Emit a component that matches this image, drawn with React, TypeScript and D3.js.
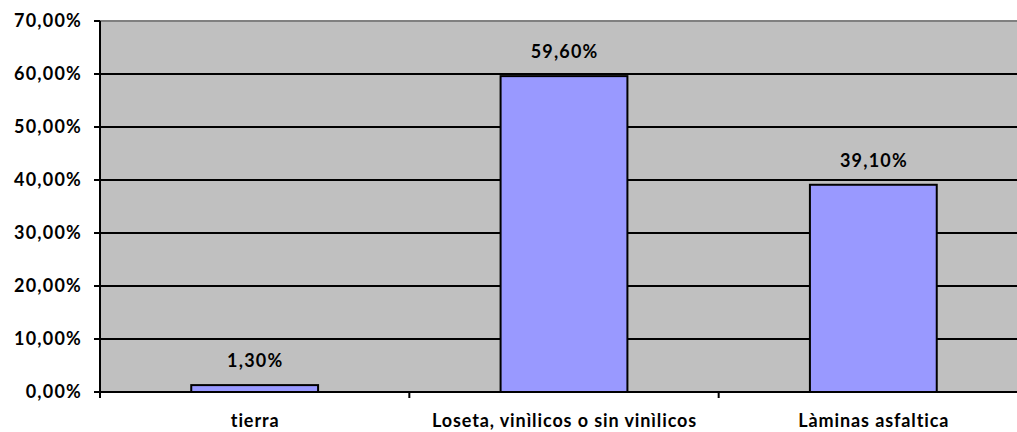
import React from "react";
import * as d3 from "d3";

const categories = ["tierra", "Loseta, vinìlicos o sin vinìlicos", "Làminas asfaltica"];
const values = [1.3, 59.6, 39.1];
const yTicks = [0, 10, 20, 30, 40, 50, 60, 70];

const W = 1017;
const H = 432;
const plot = { left: 100, right: 1028, top: 21, bottom: 392 };
const FONT = "Lato, 'Open Sans', sans-serif";
const FS = 18;

const fmt = (v: number) => v.toFixed(2).replace(".", ",") + "%";

export default function App() {
  const y = d3.scaleLinear().domain([0, 70]).range([plot.bottom, plot.top]);
  const xCat = d3.scaleBand<string>().domain(categories).range([plot.left, plot.right]).padding(0);
  const xBar = d3
    .scaleBand<string>()
    .domain(categories)
    .range([plot.left, plot.right])
    .paddingInner(0.59)
    .paddingOuter(0.295);

  const boundaries = [...categories.map((c) => xCat(c)!), plot.right];

  return (
    <div style={{ position: "fixed", left: 0, top: 0, width: W, height: H, background: "#fff" }}>
      <svg width={W} height={H} style={{ display: "block" }}>
        {/* plot background */}
        <rect
          x={plot.left}
          y={plot.top}
          width={plot.right - plot.left}
          height={plot.bottom - plot.top}
          fill="#C0C0C0"
        />
        <line x1={plot.left} x2={plot.right} y1={plot.top} y2={plot.top} stroke="#808080" strokeWidth={2} />

        {/* horizontal gridlines */}
        {yTicks.filter((t) => t > 0 && t < 70).map((t) => (
          <line key={t} x1={plot.left} x2={plot.right} y1={y(t)} y2={y(t)} stroke="#000" strokeWidth={2} />
        ))}

        {/* bars */}
        {categories.map((c, i) => (
          <rect
            key={c}
            x={xBar(c)!}
            y={y(values[i])}
            width={xBar.bandwidth()}
            height={y(0) - y(values[i])}
            fill="#9999FF"
            stroke="#000"
            strokeWidth={2}
          />
        ))}

        {/* value labels */}
        {categories.map((c, i) => (
          <text
            key={c}
            x={xBar(c)! + xBar.bandwidth() / 2 + 0.6}
            y={y(values[i]) - 18}
            textAnchor="middle"
            fontFamily={FONT}
            fontWeight="bold"
            fontSize={FS}
            letterSpacing={1.2}
            fill="#000"
          >
            {fmt(values[i])}
          </text>
        ))}

        {/* axes */}
        <line x1={plot.left} x2={plot.left} y1={plot.top} y2={plot.bottom} stroke="#000" strokeWidth={2} />
        <line x1={plot.left - 5} x2={plot.right} y1={plot.bottom} y2={plot.bottom} stroke="#000" strokeWidth={2} />
        {yTicks.map((t) => (
          <g key={t}>
            <line x1={plot.left - 6} x2={plot.left} y1={y(t)} y2={y(t)} stroke="#000" strokeWidth={2} />
            <text
              x={82}
              y={y(t)}
              dy="0.36em"
              textAnchor="end"
              fontFamily={FONT}
              fontWeight="bold"
              fontSize={FS}
              letterSpacing={1.2}
              fill="#000"
            >
              {fmt(t)}
            </text>
          </g>
        ))}
        {boundaries.map((b, i) => (
          <line key={i} x1={b} x2={b} y1={plot.bottom} y2={plot.bottom + 6} stroke="#000" strokeWidth={2} />
        ))}
        {categories.map((c) => (
          <text
            key={c}
            x={xCat(c)! + xCat.bandwidth() / 2 + 0.5}
            y={427}
            textAnchor="middle"
            fontFamily={FONT}
            fontWeight="bold"
            fontSize={FS}
            letterSpacing={0.9}
            fill="#000"
          >
            {c}
          </text>
        ))}
      </svg>
    </div>
  );
}
